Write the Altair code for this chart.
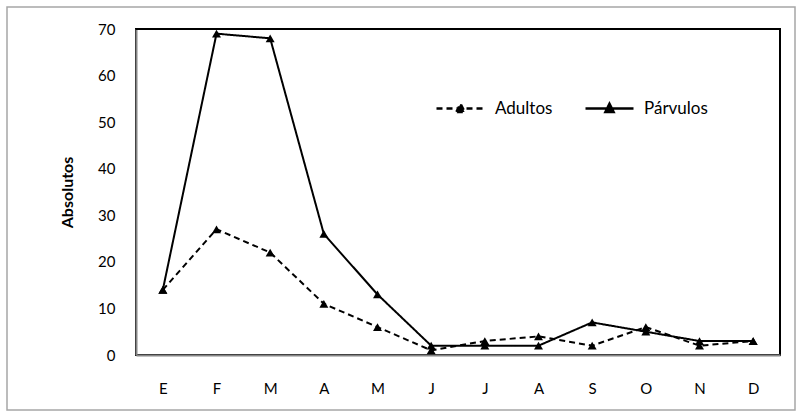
import altair as alt
import pandas as pd

meses = ["E", "F", "M", "A", "M", "J", "J", "A", "S", "O", "N", "D"]
adultos = [14, 27, 22, 11, 6, 1, 3, 4, 2, 6, 2, 3]
parvulos = [14, 69, 68, 26, 13, 2, 2, 2, 7, 5, 3, 3]
series = ["Adultos", "Párvulos"]

rows = []
for i, m in enumerate(meses):
    rows.append({"idx": i + 1, "mes": m, "serie": series[0], "valor": adultos[i]})
    rows.append({"idx": i + 1, "mes": m, "serie": series[1], "valor": parvulos[i]})
df = pd.DataFrame(rows)

FONT = "Lato"
FS = 15
label_expr = "[" + ",".join("'" + m + "'" for m in meses) + "][datum.value - 1]"

x_enc = alt.X(
    "idx:O",
    title=None,
    scale=alt.Scale(paddingInner=0, paddingOuter=0),
    axis=alt.Axis(labelExpr=label_expr, labelAngle=0, ticks=False, labelPadding=26,
                  domainColor="#868686", domainWidth=2, labelFont=FONT, labelFontSize=FS,
                  labelColor="#000000"),
)
y_enc = alt.Y(
    "valor:Q",
    title="Absolutos",
    scale=alt.Scale(domain=[0, 70], nice=False),
    axis=alt.Axis(values=list(range(0, 71, 10)), ticks=False, grid=False, labelPadding=21,
                  domainColor="#868686", domainWidth=2, labelFont=FONT, labelFontSize=FS,
                  labelColor="#000000", titleFont=FONT, titleFontSize=FS + 1, titleFontWeight="bold",
                  titlePadding=22, titleColor="#000000"),
)

base = alt.Chart(df)

lines = base.mark_line(color="black", strokeWidth=2).encode(
    x=x_enc,
    y=y_enc,
    strokeDash=alt.StrokeDash(
        "serie:N",
        scale=alt.Scale(domain=series, range=[[6, 4], [1, 0]]),
        legend=alt.Legend(
            title=None,
            orient="none",
            legendX=299,
            legendY=54,
            direction="horizontal",
            symbolType="M-1,0H1M-0.17,0.14L0,-0.2L0.17,0.14Z",
            symbolSize=2304,
            symbolFillColor="black",
            symbolStrokeColor="black",
            symbolStrokeWidth=2.5,
            labelFont=FONT,
            labelFontSize=17,
            labelColor="#000000",
            columnPadding=27,
            labelOffset=9,
        ),
    ),
)

points = base.mark_point(shape="triangle-up", filled=True, color="black", size=80, opacity=1).encode(
    x=x_enc, y=y_enc, detail="serie:N"
)

top_rule = alt.Chart(pd.DataFrame({"v": [70]})).mark_rule(color="black", strokeWidth=2).encode(
    y=alt.Y("v:Q", scale=alt.Scale(domain=[0, 70], nice=False))
)

frame = alt.Chart(pd.DataFrame({"a": [0]})).mark_rect(
    fill=None, stroke="#a6a6a6", strokeWidth=1.5, clip=False
).encode(
    x=alt.value(-129), x2=alt.value(659), y=alt.value(-22), y2=alt.value(381)
)

chart = alt.layer(frame, lines, points, top_rule).properties(
    width=644,
    height=326,
    padding={"left": 136, "top": 29, "right": 22, "bottom": 62},
    autosize=alt.AutoSizeParams(type="none"),
    background="white",
).configure_view(stroke="black", strokeWidth=2)

chart.save("out.html", embed_options={"renderer": "svg", "actions": False})
